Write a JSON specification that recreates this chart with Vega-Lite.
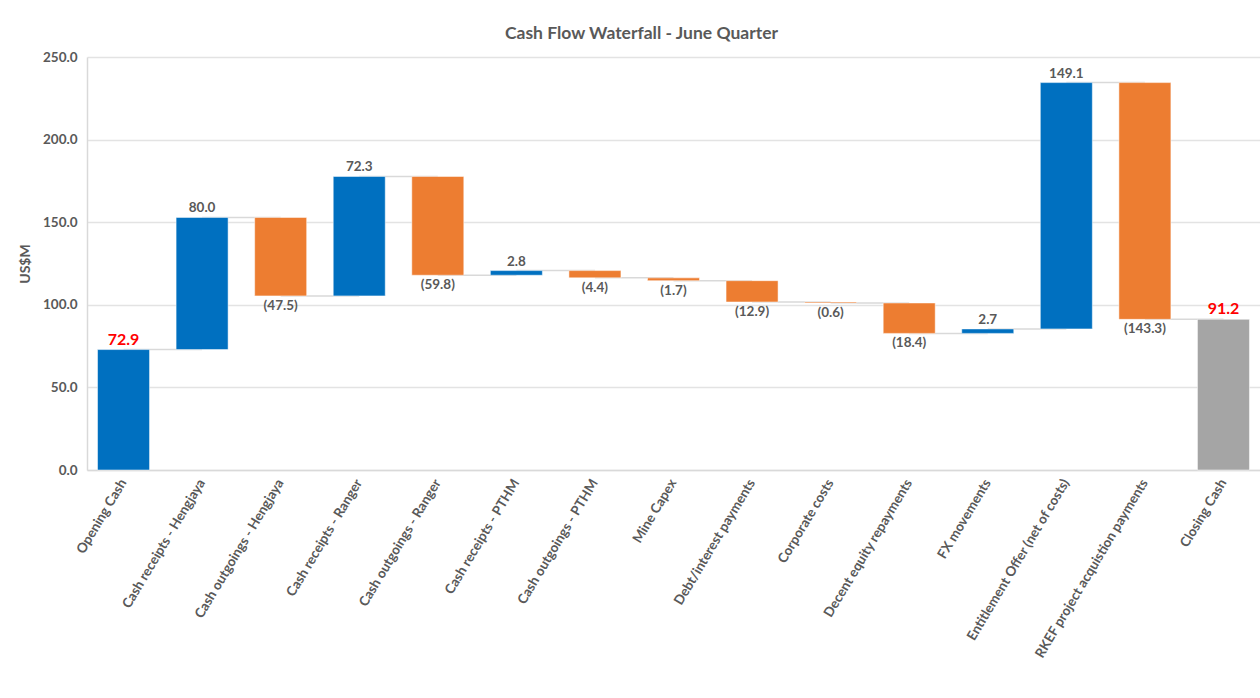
{
  "$schema": "https://vega.github.io/schema/vega-lite/v6.json",
  "autosize": {"type": "none"},
  "width": 1173,
  "height": 413,
  "padding": {"left": 87, "top": 57, "right": 0, "bottom": 228},
  "background": "white",
  "title": {
    "text": "Cash Flow Waterfall - June Quarter",
    "font": "Lato",
    "fontSize": 17.5,
    "fontWeight": "bold",
    "color": "#595959",
    "anchor": "middle",
    "dx": -32,
    "offset": 8
  },
  "config": {
    "view": {"stroke": null},
    "font": "Lato"
  },
  "data": {
    "values": [
      {"cat": "Opening Cash", "next": "Cash receipts - Hengjaya", "start": 0, "end": 72.9, "type": "total", "text": "72.9"},
      {"cat": "Cash receipts - Hengjaya", "next": "Cash outgoings - Hengjaya", "start": 72.9, "end": 152.9, "type": "increase", "text": "80.0"},
      {"cat": "Cash outgoings - Hengjaya", "next": "Cash receipts - Ranger", "start": 152.9, "end": 105.4, "type": "decrease", "text": "(47.5)"},
      {"cat": "Cash receipts - Ranger", "next": "Cash outgoings - Ranger", "start": 105.4, "end": 177.7, "type": "increase", "text": "72.3"},
      {"cat": "Cash outgoings - Ranger", "next": "Cash receipts - PTHM", "start": 177.7, "end": 117.9, "type": "decrease", "text": "(59.8)"},
      {"cat": "Cash receipts - PTHM", "next": "Cash outgoings - PTHM", "start": 117.9, "end": 120.7, "type": "increase", "text": "2.8"},
      {"cat": "Cash outgoings - PTHM", "next": "Mine Capex", "start": 120.7, "end": 116.3, "type": "decrease", "text": "(4.4)"},
      {"cat": "Mine Capex", "next": "Debt/interest payments", "start": 116.3, "end": 114.6, "type": "decrease", "text": "(1.7)"},
      {"cat": "Debt/interest payments", "next": "Corporate costs", "start": 114.6, "end": 101.7, "type": "decrease", "text": "(12.9)"},
      {"cat": "Corporate costs", "next": "Decent equity repayments", "start": 101.7, "end": 101.1, "type": "decrease", "text": "(0.6)"},
      {"cat": "Decent equity repayments", "next": "FX movements", "start": 101.1, "end": 82.7, "type": "decrease", "text": "(18.4)"},
      {"cat": "FX movements", "next": "Entitlement Offer (net of costs)", "start": 82.7, "end": 85.4, "type": "increase", "text": "2.7"},
      {"cat": "Entitlement Offer (net of costs)", "next": "RKEF project acquistion payments", "start": 85.4, "end": 234.5, "type": "increase", "text": "149.1"},
      {"cat": "RKEF project acquistion payments", "next": "Closing Cash", "start": 234.5, "end": 91.2, "type": "decrease", "text": "(143.3)"},
      {"cat": "Closing Cash", "next": null, "start": 0, "end": 91.2, "type": "closing", "text": "91.2"}
    ]
  },
  "encoding": {
    "x": {
      "field": "cat",
      "type": "nominal",
      "sort": null,
      "scale": {"paddingInner": 0.338, "paddingOuter": 0.134},
      "axis": {
        "title": null,
        "labelAngle": -59,
        "labelAlign": "right",
        "labelBaseline": "middle",
        "labelFont": "Lato",
        "labelFontSize": 13.5,
        "labelFontWeight": "bold",
        "labelColor": "#595959",
        "labelPadding": 10,
        "labelLimit": 300,
        "ticks": false,
        "domainColor": "#D9D9D9",
        "domainWidth": 1.5
      }
    }
  },
  "layer": [
    {
      "transform": [{"filter": "datum.next != null"}],
      "mark": {"type": "rule", "color": "#D9D9D9", "strokeWidth": 1.5},
      "encoding": {
        "x2": {"field": "next"},
        "y": {"field": "end", "type": "quantitative"}
      }
    },
    {
      "mark": {"type": "bar", "stroke": "white", "strokeWidth": 0.5},
      "encoding": {
        "y": {
          "field": "start",
          "type": "quantitative",
          "scale": {"domain": [0, 250], "nice": false},
          "axis": {
            "title": "US$M",
            "titleFont": "Lato",
            "titleFontSize": 14,
            "titleFontWeight": "bold",
            "titleColor": "#595959",
            "titlePadding": 10,
            "values": [0, 50, 100, 150, 200, 250],
            "format": ".1f",
            "labelFont": "Lato",
            "labelFontSize": 13.5,
            "labelFontWeight": "bold",
            "labelColor": "#595959",
            "labelPadding": 10,
            "ticks": false,
            "domainColor": "#D9D9D9",
            "domainWidth": 1.5,
            "gridColor": "#E3E3E3",
            "gridWidth": 1.5
          }
        },
        "y2": {"field": "end"},
        "color": {
          "field": "type",
          "type": "nominal",
          "scale": {
            "domain": ["total", "increase", "decrease", "closing"],
            "range": ["#0070C0", "#0070C0", "#ED7D31", "#A5A5A5"]
          },
          "legend": null
        }
      }
    },
    {
      "transform": [{"filter": "datum.type == 'increase'"}],
      "mark": {"type": "text", "baseline": "bottom", "dy": -2, "font": "Lato", "fontSize": 13.5, "fontWeight": "bold", "color": "#595959"},
      "encoding": {
        "y": {"field": "end", "type": "quantitative"},
        "text": {"field": "text"}
      }
    },
    {
      "transform": [{"filter": "datum.type == 'decrease'"}],
      "mark": {"type": "text", "baseline": "top", "dy": 3, "font": "Lato", "fontSize": 13.5, "fontWeight": "bold", "color": "#595959"},
      "encoding": {
        "y": {"field": "end", "type": "quantitative"},
        "text": {"field": "text"}
      }
    },
    {
      "transform": [{"filter": "datum.type == 'total' || datum.type == 'closing'"}],
      "mark": {"type": "text", "baseline": "bottom", "dy": -2, "font": "Lato", "fontSize": 16, "fontWeight": "bold", "color": "#FF0000"},
      "encoding": {
        "y": {"field": "end", "type": "quantitative"},
        "text": {"field": "text"}
      }
    }
  ]
}
